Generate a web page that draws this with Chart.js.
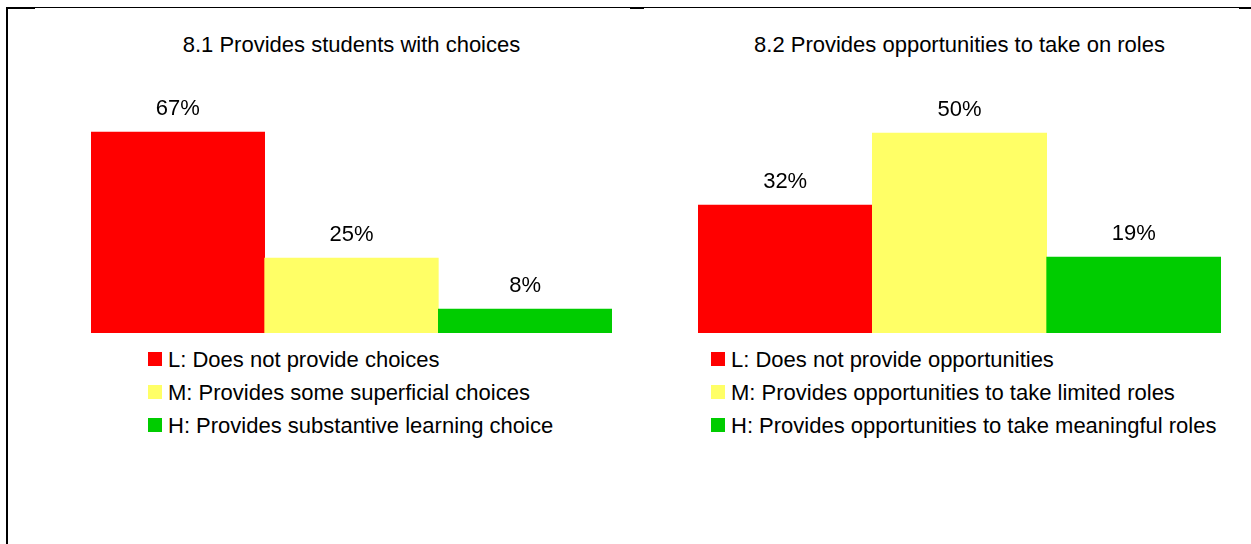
<!DOCTYPE html>
<html>
<head>
<meta charset="utf-8">
<script src="https://cdn.jsdelivr.net/npm/chart.js@4/dist/chart.umd.min.js"></script>
<style>
    body {
        margin: 0;
        width: 1251px;
        height: 544px;
        background: #fff;
        overflow: hidden;
        position: relative;
        font-family: "Liberation Sans", Arial, sans-serif;
        color: #000;
    }
    .line { position: absolute; background: #000; }
    .chart-title {
        position: absolute;
        top: 34px;
        font-size: 22px;
        line-height: 22px;
        text-align: center;
        white-space: nowrap;
    }
    .chart-box { position: absolute; top: 60px; }
    .legend { position: absolute; top: 343px; }
    .legend-row {
        display: flex;
        align-items: center;
        height: 33px;
        font-size: 22px;
        line-height: 22px;
        white-space: nowrap;
    }
    .legend-row i {
        display: inline-block;
        width: 14px;
        height: 14px;
        margin-right: 6px;
        position: relative;
        top: -1px;
    }
</style>
</head>
<body>
<div class="line" style="left:6px;top:7px;width:2px;height:537px"></div>
<div class="line" style="left:6px;top:7px;width:1245px;height:1px"></div>
<div class="line" style="left:6px;top:7px;width:29px;height:2px"></div>
<div class="line" style="left:630px;top:7px;width:14px;height:2px"></div>
<div class="line" style="left:1239px;top:7px;width:12px;height:2px"></div>

<div class="chart-title" id="TITLE1" style="left:91px;width:521px"></div>
<div class="chart-title" id="TITLE2" style="left:698px;width:523px"></div>
<div class="chart-box" style="left:91px"><canvas id="chart1" width="521" height="273"></canvas></div>
<div class="chart-box" style="left:698px"><canvas id="chart2" width="523" height="273"></canvas></div>
<div class="legend" id="LEGEND1" style="left:148px"></div>
<div class="legend" id="LEGEND2" style="left:711px"></div>

<script>
const titles = [
    "8.1 Provides students with choices",
    "8.2 Provides opportunities to take on roles"
];
const categories1 = [
    "L: Does not provide choices",
    "M: Provides some superficial choices",
    "H: Provides substantive learning choice"
];
const categories2 = [
    "L: Does not provide opportunities",
    "M: Provides opportunities to take limited roles",
    "H: Provides opportunities to take meaningful roles"
];
const values1 = [67, 25, 8];
const values2 = [32, 50, 19];
const colors = ["#ff0000", "#ffff66", "#00cc00"];
const axisMax = [80, 60];

// percent labels sitting above each bar
const valueLabels = {
    id: "valueLabels",
    afterDatasetsDraw(chart) {
        const ctx = chart.ctx;
        const ds = chart.data.datasets[0];
        ctx.save();
        ctx.font = '22px "Liberation Sans", Arial, sans-serif';
        ctx.fillStyle = "#000";
        ctx.textAlign = "center";
        ctx.textBaseline = "alphabetic";
        chart.getDatasetMeta(0).data.forEach((bar, i) => {
            ctx.fillText(ds.data[i] + "%", bar.x, bar.y - 17);
        });
        ctx.restore();
    }
};

function makeChart(canvasId, labels, values, max) {
    const ctx = document.getElementById(canvasId).getContext("2d");
    return new Chart(ctx, {
        type: "bar",
        data: {
            labels: labels,
            datasets: [{
                data: values,
                backgroundColor: colors,
                borderWidth: 0,
                categoryPercentage: 1,
                barPercentage: 1
            }]
        },
        options: {
            responsive: false,
            animation: false,
            layout: { padding: { top: 33, bottom: 0, left: 0, right: 0 } },
            plugins: {
                legend: { display: false },
                tooltip: { enabled: false }
            },
            scales: {
                x: { display: false },
                y: { display: false, min: 0, max: max }
            }
        },
        plugins: [valueLabels]
    });
}

function makeLegend(id, labels) {
    const box = document.getElementById(id);
    labels.forEach((text, idx) => {
        const row = document.createElement("div");
        row.className = "legend-row";
        row.innerHTML = `<i style="background:${colors[idx]}"></i><span>${text}</span>`;
        box.appendChild(row);
    });
}

document.getElementById("TITLE1").innerText = titles[0];
document.getElementById("TITLE2").innerText = titles[1];
makeChart("chart1", categories1, values1, axisMax[0]);
makeChart("chart2", categories2, values2, axisMax[1]);
makeLegend("LEGEND1", categories1);
makeLegend("LEGEND2", categories2);
</script>
</body>
</html>
